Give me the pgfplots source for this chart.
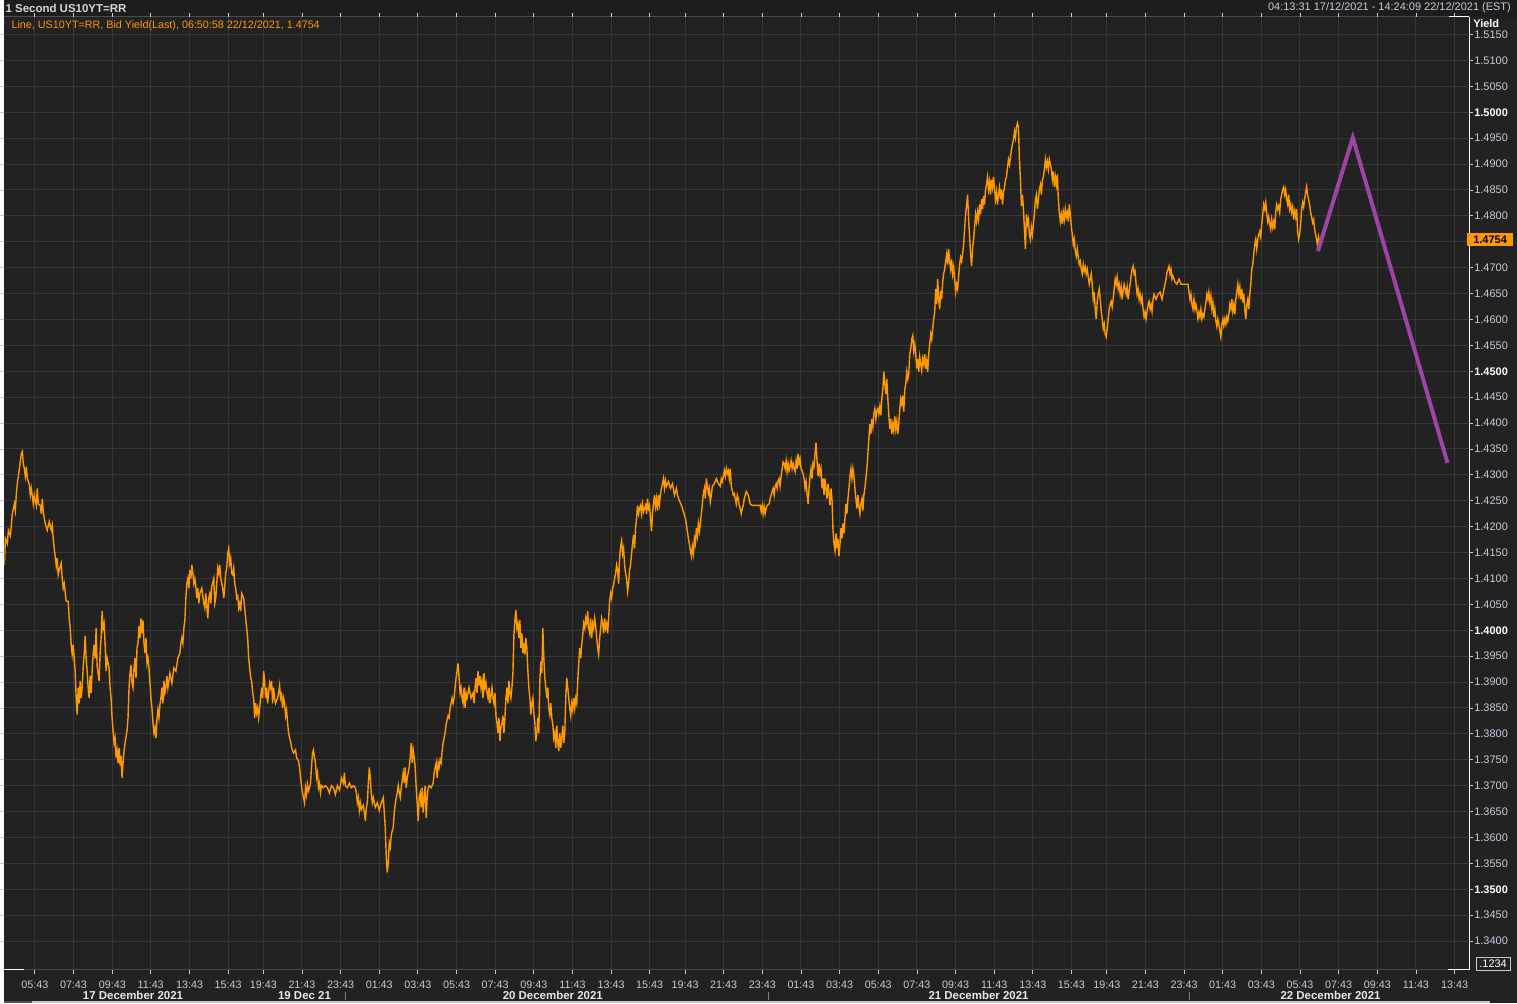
\documentclass[border=0pt]{standalone}
\usepackage{pgfplots}
\pgfplotsset{compat=1.18}
\usepackage{fontspec}
\setmainfont{Liberation Sans}
\definecolor{bg}{RGB}{34,34,34}
\definecolor{titlebg}{RGB}{29,29,29}
\definecolor{gridc}{RGB}{55,55,55}
\definecolor{tickc}{RGB}{196,204,218}
\definecolor{ser}{RGB}{255,153,0}
\definecolor{purp}{RGB}{158,68,165}
\definecolor{titlec}{RGB}{214,214,214}
\definecolor{dayc}{RGB}{228,232,238}
\definecolor{scrollc}{RGB}{196,196,196}
\definecolor{scrolld}{RGB}{80,80,80}
\begin{document}
\begin{tikzpicture}[x=1pt,y=1pt]
\fill[bg] (0,0) rectangle (1517,1006);
\fill[titlebg] (0,989.3) rectangle (1517,1006);
\draw[gray!60!black,line width=1pt] (0,989.3) -- (1449,989.3);
\fill[scrolld] (0,0) rectangle (28,2.4);
\fill[scrollc] (28,0) rectangle (1490,2.4);
\begin{axis}[
  at={(0pt,33.5pt)}, anchor=south west,
  scale only axis, width=1469pt, height=955.8pt,
  xmin=0, xmax=1469, ymin=1.33447, ymax=1.518465,
  axis line style={draw=none},
  grid=major,
  major grid style={draw=gridc,line width=1pt},
  tick align=outside,
  major tick length=4pt,
  tick style={draw=tickc,line width=0.8pt},
  yticklabel pos=right,
  ytick={1.340,1.345,1.350,1.355,1.360,1.365,1.370,1.375,1.380,1.385,1.390,1.395,1.400,1.405,1.410,1.415,1.420,1.425,1.430,1.435,1.440,1.445,1.450,1.455,1.460,1.465,1.470,1.475,1.480,1.485,1.490,1.495,1.500,1.505,1.510,1.515},
  yticklabels={1.3400,1.3450,\textbf{\color{white}1.3500},1.3550,1.3600,1.3650,1.3700,1.3750,1.3800,1.3850,1.3900,1.3950,\textbf{\color{white}1.4000},1.4050,1.4100,1.4150,1.4200,1.4250,1.4300,1.4350,1.4400,1.4450,\textbf{\color{white}1.4500},1.4550,1.4600,1.4650,1.4700,{},1.4800,1.4850,1.4900,1.4950,\textbf{\color{white}1.5000},1.5050,1.5100,1.5150},
  yticklabel style={anchor=west,inner sep=0pt,xshift=1pt,text=tickc,font=\fontsize{11}{12}\selectfont},
  xtick={30.5,69.3,108.3,146.7,185.7,224.3,259.7,298.45,337.2,375.95,414.7,453.45,492.2,530.95,569.7,608.45,647.2,682.65,721.4,760.15,798.9,837.65,876.4,915.15,953.9,992.65,1031.4,1070.15,1105.6,1144.35,1183.1,1221.85,1260.6,1299.35,1338.1,1376.85,1415.6,1454.35},
  xticklabels={05:43,07:43,09:43,11:43,13:43,15:43,19:43,21:43,23:43,01:43,03:43,05:43,07:43,09:43,11:43,13:43,15:43,19:43,21:43,23:43,01:43,03:43,05:43,07:43,09:43,11:43,13:43,15:43,19:43,21:43,23:43,01:43,03:43,05:43,07:43,09:43,11:43,13:43},
  xticklabel style={anchor=north,inner sep=0pt,yshift=-7.3pt,text=tickc,font=\fontsize{10.8}{12}\selectfont},
  clip=true,
]
\addplot[ser,line width=1.4pt,mark=none] coordinates {
(0,1.4126)(1,1.4177)(3,1.4167)(4,1.4193)(6,1.4182)(8,1.4225)(10,1.4244)(11,1.4231)(12,1.4264)(13,1.4283)(14,1.4297)(15,1.4312)(16,1.4327)(17,1.4341)(18,1.4345)(19,1.4321)(20,1.4312)(21,1.4297)(22,1.4316)(23,1.4293)(25,1.4281)(26,1.4261)(27,1.4274)(29,1.4244)(30,1.4261)(31,1.4250)(32,1.4241)(33,1.4274)(34,1.4244)(36,1.4241)(37,1.4225)(38,1.4254)(39,1.4229)(40,1.4216)(41,1.4206)(43,1.4193)(45,1.4210)(47,1.4193)(48,1.4203)(49,1.4177)(50,1.4158)(51,1.4143)(52,1.4124)(53,1.4139)(54,1.4107)(55,1.4116)(57,1.4129)(58,1.4100)(59,1.4081)(60,1.4090)(62,1.4056)(64,1.4056)(65,1.4023)(66,1.4004)(67,1.3972)(68,1.3953)(69,1.3972)(70,1.3946)(71,1.3921)(72,1.3869)(73,1.3837)(74,1.3889)(75,1.3859)(76,1.3902)(77,1.3869)(78,1.3889)(79,1.3927)(80,1.3953)(81,1.3989)(82,1.3946)(83,1.3921)(84,1.3889)(85,1.3869)(86,1.3912)(87,1.3879)(88,1.3921)(89,1.3953)(90,1.3972)(91,1.3946)(92,1.4004)(93,1.3931)(95,1.3902)(96,1.3956)(97,1.3985)(98,1.4037)(99,1.4004)(100,1.4013)(101,1.3975)(102,1.3921)(103,1.3946)(105,1.3927)(106,1.3889)(107,1.3869)(108,1.3831)(109,1.3806)(110,1.3782)(111,1.3792)(112,1.3754)(113,1.3769)(114,1.3744)(115,1.3773)(116,1.3739)(117,1.3758)(118,1.3715)(119,1.3744)(120,1.3767)(121,1.3782)(123,1.3806)(124,1.3831)(125,1.3889)(126,1.3917)(127,1.3933)(128,1.3898)(129,1.3889)(130,1.3927)(131,1.3946)(132,1.3908)(133,1.3966)(134,1.3975)(135,1.4008)(136,1.3985)(137,1.4023)(138,1.3994)(139,1.4019)(140,1.3975)(141,1.3956)(142,1.3985)(143,1.3936)(144,1.3946)(145,1.3927)(146,1.3898)(147,1.3869)(148,1.3850)(149,1.3821)(150,1.3802)(151,1.3812)(152,1.3792)(153,1.3827)(154,1.3846)(155,1.3831)(156,1.3856)(157,1.3869)(158,1.3889)(159,1.3859)(160,1.3902)(161,1.3879)(162,1.3889)(163,1.3912)(164,1.3889)(166,1.3917)(168,1.3898)(170,1.3927)(172,1.3921)(174,1.3946)(176,1.3956)(177,1.3975)(178,1.3985)(179,1.3975)(180,1.4004)(181,1.4019)(182,1.4062)(183,1.4090)(184,1.4100)(185,1.4081)(186,1.4116)(187,1.4100)(188,1.4126)(189,1.4110)(190,1.4090)(191,1.4100)(192,1.4085)(193,1.4062)(194,1.4081)(195,1.4052)(196,1.4071)(198,1.4081)(200,1.4052)(201,1.4043)(202,1.4071)(204,1.4023)(205,1.4062)(206,1.4071)(207,1.4052)(208,1.4085)(210,1.4100)(211,1.4052)(212,1.4062)(213,1.4090)(214,1.4120)(215,1.4110)(216,1.4126)(217,1.4100)(218,1.4090)(219,1.4081)(220,1.4062)(221,1.4085)(222,1.4110)(223,1.4120)(224,1.4148)(225,1.4158)(226,1.4129)(227,1.4139)(228,1.4110)(229,1.4107)(230,1.4120)(231,1.4090)(232,1.4081)(233,1.4062)(234,1.4066)(235,1.4043)(236,1.4052)(237,1.4037)(238,1.4071)(240,1.4062)(241,1.4043)(242,1.4023)(243,1.4004)(244,1.3985)(245,1.3946)(246,1.3927)(247,1.3908)(248,1.3902)(249,1.3879)(250,1.3869)(251,1.3831)(252,1.3859)(253,1.3840)(254,1.3850)(255,1.3831)(256,1.3850)(257,1.3869)(258,1.3889)(259,1.3869)(260,1.3921)(261,1.3902)(262,1.3869)(263,1.3889)(264,1.3859)(265,1.3879)(266,1.3898)(267,1.3889)(268,1.3902)(269,1.3859)(270,1.3889)(271,1.3869)(272,1.3859)(274,1.3869)(275,1.3879)(276,1.3893)(277,1.3869)(278,1.3876)(279,1.3850)(280,1.3869)(281,1.3859)(282,1.3835)(283,1.3846)(284,1.3821)(285,1.3802)(286,1.3792)(287,1.3786)(288,1.3773)(290,1.3763)(292,1.3769)(293,1.3754)(295,1.3748)(296,1.3735)(297,1.3715)(298,1.3700)(299,1.3686)(300,1.3677)(301,1.3667)(302,1.3696)(303,1.3683)(304,1.3702)(305,1.3690)(306,1.3696)(307,1.3705)(308,1.3735)(309,1.3763)(310,1.3769)(311,1.3754)(312,1.3744)(313,1.3715)(314,1.3725)(315,1.3696)(316,1.3705)(317,1.3686)(318,1.3700)(320,1.3696)(322,1.3700)(324,1.3696)(326,1.3686)(328,1.3700)(330,1.3696)(332,1.3683)(334,1.3700)(336,1.3692)(337,1.3700)(338,1.3715)(340,1.3705)(341,1.3725)(342,1.3700)(344,1.3696)(346,1.3705)(348,1.3696)(350,1.3700)(352,1.3696)(353,1.3686)(354,1.3667)(355,1.3677)(356,1.3652)(357,1.3667)(358,1.3654)(360,1.3662)(361,1.3648)(362,1.3632)(363,1.3658)(364,1.3667)(365,1.3705)(366,1.3735)(367,1.3715)(368,1.3683)(369,1.3667)(370,1.3677)(372,1.3658)(374,1.3667)(376,1.3652)(378,1.3667)(380,1.3677)(381,1.3648)(382,1.3619)(383,1.3561)(384,1.3532)(385,1.3551)(386,1.3590)(387,1.3581)(388,1.3604)(389,1.3613)(390,1.3619)(391,1.3648)(392,1.3664)(393,1.3677)(394,1.3686)(395,1.3700)(396,1.3686)(397,1.3677)(398,1.3696)(400,1.3725)(401,1.3705)(402,1.3735)(403,1.3696)(404,1.3715)(405,1.3725)(406,1.3735)(407,1.3754)(408,1.3782)(409,1.3744)(410,1.3769)(411,1.3754)(412,1.3735)(413,1.3696)(414,1.3667)(415,1.3632)(416,1.3677)(417,1.3686)(418,1.3658)(419,1.3696)(420,1.3648)(421,1.3677)(422,1.3700)(423,1.3638)(424,1.3677)(425,1.3696)(426,1.3700)(428,1.3696)(430,1.3705)(431,1.3725)(432,1.3735)(433,1.3744)(434,1.3715)(435,1.3744)(436,1.3735)(437,1.3750)(438,1.3744)(439,1.3767)(440,1.3782)(441,1.3792)(442,1.3802)(443,1.3818)(444,1.3827)(445,1.3835)(446,1.3831)(447,1.3850)(448,1.3859)(449,1.3869)(450,1.3859)(451,1.3869)(452,1.3889)(453,1.3908)(454,1.3921)(455,1.3936)(456,1.3908)(457,1.3879)(458,1.3889)(459,1.3869)(460,1.3859)(461,1.3889)(462,1.3850)(463,1.3879)(464,1.3869)(466,1.3889)(468,1.3869)(470,1.3879)(471,1.3859)(472,1.3889)(473,1.3908)(474,1.3879)(475,1.3921)(476,1.3893)(477,1.3912)(478,1.3889)(479,1.3902)(480,1.3869)(481,1.3917)(482,1.3889)(483,1.3898)(484,1.3879)(485,1.3869)(486,1.3889)(487,1.3859)(488,1.3874)(489,1.3889)(490,1.3869)(491,1.3859)(492,1.3879)(493,1.3835)(494,1.3821)(495,1.3802)(496,1.3831)(497,1.3786)(498,1.3812)(499,1.3821)(500,1.3835)(501,1.3802)(502,1.3831)(503,1.3869)(504,1.3889)(505,1.3859)(506,1.3902)(507,1.3879)(508,1.3869)(509,1.3889)(510,1.3917)(511,1.3991)(512,1.4019)(513,1.4039)(514,1.4004)(515,1.4013)(516,1.3985)(517,1.4019)(518,1.3966)(519,1.3994)(520,1.3956)(521,1.3975)(522,1.3953)(523,1.3985)(524,1.3966)(525,1.3921)(526,1.3889)(527,1.3869)(528,1.3837)(529,1.3859)(530,1.3869)(531,1.3840)(532,1.3821)(533,1.3786)(534,1.3802)(535,1.3831)(536,1.3802)(537,1.3902)(538,1.3940)(539,1.3917)(540,1.4004)(541,1.3946)(542,1.3908)(543,1.3889)(544,1.3869)(545,1.3889)(546,1.3850)(547,1.3837)(548,1.3859)(549,1.3831)(550,1.3818)(551,1.3792)(552,1.3802)(553,1.3773)(554,1.3816)(555,1.3782)(556,1.3767)(557,1.3802)(558,1.3773)(559,1.3792)(560,1.3816)(561,1.3782)(562,1.3802)(563,1.3869)(564,1.3908)(565,1.3889)(566,1.3869)(567,1.3850)(568,1.3835)(569,1.3859)(570,1.3846)(571,1.3869)(572,1.3850)(573,1.3869)(574,1.3859)(575,1.3902)(576,1.3936)(577,1.3966)(578,1.3946)(579,1.3972)(580,1.3991)(581,1.4013)(582,1.4004)(583,1.4023)(584,1.4013)(585,1.4037)(586,1.4004)(587,1.3994)(588,1.4023)(589,1.3985)(590,1.4013)(591,1.4004)(592,1.4023)(593,1.4008)(594,1.3985)(595,1.3966)(596,1.3953)(597,1.3985)(598,1.4004)(599,1.4023)(600,1.4013)(601,1.3994)(602,1.4023)(603,1.4004)(604,1.4013)(605,1.3994)(606,1.4023)(607,1.4056)(608,1.4071)(609,1.4062)(610,1.4081)(611,1.4087)(612,1.4100)(613,1.4110)(614,1.4126)(615,1.4116)(616,1.4090)(617,1.4139)(618,1.4162)(619,1.4173)(620,1.4148)(621,1.4158)(622,1.4126)(623,1.4110)(624,1.4100)(625,1.4075)(626,1.4090)(627,1.4116)(628,1.4126)(629,1.4148)(630,1.4167)(631,1.4184)(632,1.4158)(633,1.4197)(634,1.4216)(635,1.4241)(636,1.4225)(637,1.4235)(638,1.4241)(639,1.4225)(640,1.4244)(641,1.4229)(642,1.4235)(643,1.4241)(644,1.4225)(645,1.4254)(646,1.4235)(647,1.4241)(648,1.4216)(649,1.4191)(650,1.4225)(651,1.4244)(652,1.4261)(653,1.4239)(654,1.4254)(655,1.4231)(656,1.4261)(657,1.4244)(658,1.4264)(659,1.4274)(660,1.4283)(661,1.4293)(662,1.4274)(663,1.4289)(664,1.4278)(666,1.4287)(668,1.4274)(670,1.4283)(672,1.4261)(674,1.4274)(675,1.4261)(677,1.4250)(679,1.4241)(681,1.4229)(683,1.4216)(684,1.4203)(685,1.4191)(686,1.4177)(687,1.4167)(688,1.4154)(689,1.4143)(690,1.4162)(691,1.4148)(692,1.4177)(693,1.4167)(694,1.4197)(695,1.4182)(696,1.4206)(697,1.4191)(698,1.4206)(699,1.4225)(700,1.4244)(701,1.4264)(702,1.4274)(703,1.4254)(704,1.4293)(705,1.4278)(706,1.4264)(707,1.4274)(708,1.4248)(709,1.4261)(710,1.4278)(712,1.4283)(714,1.4293)(716,1.4283)(718,1.4278)(719,1.4293)(720,1.4287)(721,1.4297)(722,1.4308)(723,1.4297)(724,1.4312)(725,1.4302)(726,1.4308)(727,1.4293)(728,1.4312)(729,1.4278)(730,1.4270)(731,1.4261)(732,1.4264)(733,1.4254)(734,1.4244)(735,1.4261)(736,1.4254)(737,1.4241)(738,1.4235)(739,1.4225)(740,1.4235)(741,1.4241)(742,1.4254)(743,1.4261)(744,1.4268)(746,1.4261)(748,1.4244)(750,1.4241)(754,1.4241)(758,1.4241)(759,1.4229)(760,1.4241)(761,1.4225)(762,1.4239)(763,1.4225)(764,1.4235)(765,1.4241)(767,1.4244)(768,1.4254)(769,1.4261)(770,1.4268)(771,1.4274)(772,1.4261)(773,1.4278)(774,1.4283)(775,1.4274)(776,1.4289)(777,1.4293)(778,1.4278)(779,1.4297)(780,1.4312)(781,1.4325)(782,1.4322)(783,1.4312)(784,1.4327)(785,1.4306)(786,1.4322)(787,1.4308)(788,1.4316)(789,1.4327)(790,1.4312)(791,1.4322)(792,1.4312)(793,1.4306)(794,1.4327)(795,1.4312)(796,1.4341)(797,1.4322)(798,1.4331)(799,1.4312)(800,1.4308)(801,1.4302)(802,1.4293)(803,1.4274)(804,1.4287)(805,1.4264)(806,1.4244)(807,1.4274)(808,1.4297)(809,1.4312)(810,1.4293)(811,1.4322)(812,1.4316)(813,1.4341)(814,1.4362)(815,1.4327)(816,1.4297)(817,1.4322)(818,1.4302)(819,1.4312)(820,1.4274)(821,1.4293)(822,1.4261)(823,1.4293)(824,1.4274)(825,1.4254)(826,1.4283)(827,1.4264)(828,1.4241)(829,1.4274)(830,1.4254)(831,1.4193)(832,1.4167)(833,1.4154)(834,1.4187)(835,1.4158)(836,1.4177)(837,1.4143)(838,1.4167)(839,1.4197)(840,1.4177)(841,1.4206)(842,1.4187)(843,1.4216)(844,1.4244)(845,1.4225)(846,1.4254)(847,1.4274)(848,1.4297)(849,1.4312)(850,1.4293)(851,1.4312)(852,1.4297)(853,1.4274)(854,1.4254)(855,1.4235)(856,1.4261)(857,1.4239)(858,1.4225)(859,1.4244)(860,1.4254)(861,1.4231)(862,1.4261)(863,1.4274)(864,1.4293)(865,1.4312)(866,1.4341)(867,1.4370)(868,1.4398)(869,1.4379)(870,1.4408)(871,1.4393)(872,1.4418)(873,1.4428)(874,1.4408)(875,1.4424)(876,1.4428)(877,1.4418)(878,1.4432)(879,1.4415)(880,1.4447)(881,1.4466)(882,1.4499)(883,1.4475)(884,1.4456)(885,1.4485)(886,1.4447)(887,1.4415)(888,1.4389)(889,1.4408)(890,1.4379)(891,1.4398)(892,1.4385)(893,1.4413)(894,1.4389)(895,1.4404)(896,1.4379)(897,1.4398)(898,1.4428)(899,1.4447)(900,1.4437)(901,1.4453)(902,1.4422)(903,1.4466)(904,1.4475)(905,1.4499)(906,1.4485)(907,1.4495)(908,1.4533)(909,1.4543)(910,1.4562)(911,1.4569)(912,1.4539)(913,1.4552)(914,1.4533)(915,1.4505)(916,1.4524)(917,1.4499)(918,1.4528)(919,1.4514)(920,1.4501)(921,1.4524)(922,1.4514)(923,1.4533)(924,1.4505)(925,1.4520)(926,1.4499)(927,1.4533)(928,1.4552)(929,1.4572)(930,1.4562)(931,1.4582)(932,1.4601)(933,1.4614)(934,1.4659)(935,1.4629)(936,1.4678)(937,1.4639)(938,1.4620)(939,1.4655)(940,1.4639)(941,1.4672)(942,1.4688)(943,1.4697)(944,1.4712)(945,1.4726)(946,1.4706)(947,1.4736)(948,1.4712)(949,1.4697)(950,1.4716)(951,1.4688)(952,1.4701)(953,1.4678)(954,1.4653)(955,1.4668)(956,1.4659)(957,1.4682)(958,1.4706)(959,1.4720)(960,1.4712)(961,1.4726)(962,1.4745)(963,1.4774)(964,1.4803)(965,1.4822)(966,1.4841)(967,1.4793)(968,1.4761)(969,1.4726)(970,1.4703)(971,1.4736)(972,1.4755)(973,1.4778)(974,1.4803)(975,1.4789)(976,1.4807)(977,1.4793)(978,1.4822)(979,1.4803)(980,1.4832)(981,1.4813)(982,1.4838)(983,1.4822)(984,1.4851)(985,1.4860)(986,1.4875)(987,1.4851)(988,1.4866)(989,1.4841)(990,1.4870)(991,1.4855)(992,1.4875)(993,1.4851)(994,1.4832)(995,1.4847)(996,1.4822)(997,1.4841)(998,1.4855)(999,1.4832)(1000,1.4851)(1001,1.4822)(1002,1.4845)(1003,1.4855)(1004,1.4870)(1005,1.4875)(1006,1.4894)(1007,1.4909)(1008,1.4899)(1009,1.4913)(1010,1.4928)(1011,1.4938)(1012,1.4947)(1013,1.4963)(1014,1.4951)(1015,1.4971)(1016,1.4979)(1017,1.4971)(1018,1.4909)(1019,1.4870)(1020,1.4819)(1021,1.4841)(1022,1.4813)(1023,1.4774)(1024,1.4736)(1025,1.4803)(1026,1.4784)(1027,1.4793)(1028,1.4764)(1029,1.4755)(1030,1.4778)(1031,1.4764)(1032,1.4784)(1033,1.4803)(1034,1.4832)(1035,1.4841)(1036,1.4813)(1037,1.4832)(1038,1.4851)(1039,1.4860)(1040,1.4841)(1041,1.4870)(1042,1.4875)(1043,1.4890)(1044,1.4909)(1045,1.4894)(1046,1.4905)(1047,1.4890)(1048,1.4909)(1049,1.4899)(1050,1.4890)(1051,1.4870)(1052,1.4886)(1053,1.4856)(1054,1.4875)(1055,1.4860)(1056,1.4880)(1057,1.4832)(1058,1.4807)(1059,1.4789)(1060,1.4803)(1061,1.4784)(1062,1.4807)(1063,1.4793)(1064,1.4813)(1065,1.4798)(1066,1.4807)(1067,1.4789)(1068,1.4822)(1069,1.4803)(1070,1.4780)(1071,1.4764)(1072,1.4745)(1073,1.4755)(1074,1.4732)(1075,1.4722)(1076,1.4736)(1077,1.4720)(1078,1.4706)(1079,1.4712)(1080,1.4697)(1081,1.4688)(1082,1.4706)(1083,1.4693)(1084,1.4701)(1085,1.4688)(1086,1.4697)(1087,1.4682)(1088,1.4668)(1089,1.4678)(1090,1.4688)(1091,1.4668)(1092,1.4639)(1093,1.4653)(1094,1.4620)(1095,1.4601)(1096,1.4635)(1097,1.4649)(1098,1.4659)(1099,1.4639)(1100,1.4616)(1101,1.4601)(1102,1.4582)(1103,1.4591)(1104,1.4572)(1105,1.4566)(1106,1.4582)(1107,1.4601)(1108,1.4620)(1109,1.4629)(1110,1.4635)(1111,1.4624)(1112,1.4639)(1113,1.4659)(1114,1.4678)(1115,1.4668)(1116,1.4682)(1117,1.4659)(1118,1.4668)(1119,1.4649)(1120,1.4663)(1121,1.4639)(1122,1.4655)(1123,1.4668)(1124,1.4659)(1125,1.4649)(1126,1.4663)(1127,1.4639)(1128,1.4655)(1129,1.4668)(1130,1.4684)(1131,1.4697)(1132,1.4703)(1133,1.4688)(1134,1.4693)(1135,1.4668)(1136,1.4649)(1137,1.4659)(1138,1.4639)(1139,1.4649)(1140,1.4633)(1141,1.4643)(1142,1.4620)(1143,1.4605)(1144,1.4614)(1145,1.4601)(1146,1.4616)(1147,1.4629)(1148,1.4635)(1149,1.4620)(1150,1.4629)(1151,1.4616)(1152,1.4639)(1153,1.4649)(1155,1.4639)(1157,1.4649)(1159,1.4653)(1161,1.4639)(1162,1.4649)(1163,1.4659)(1164,1.4668)(1165,1.4678)(1166,1.4691)(1167,1.4697)(1168,1.4703)(1169,1.4688)(1170,1.4697)(1171,1.4678)(1172,1.4684)(1174,1.4672)(1176,1.4668)(1178,1.4678)(1180,1.4668)(1187,1.4668)(1188,1.4653)(1189,1.4639)(1190,1.4649)(1191,1.4629)(1192,1.4620)(1193,1.4639)(1194,1.4620)(1195,1.4629)(1196,1.4616)(1197,1.4601)(1198,1.4614)(1199,1.4605)(1200,1.4620)(1201,1.4601)(1202,1.4610)(1203,1.4605)(1204,1.4620)(1205,1.4633)(1206,1.4649)(1207,1.4639)(1208,1.4653)(1209,1.4633)(1210,1.4646)(1211,1.4620)(1212,1.4633)(1213,1.4605)(1214,1.4620)(1215,1.4597)(1216,1.4586)(1217,1.4601)(1218,1.4591)(1219,1.4578)(1220,1.4566)(1221,1.4591)(1222,1.4601)(1223,1.4588)(1224,1.4601)(1225,1.4591)(1226,1.4605)(1227,1.4597)(1228,1.4610)(1229,1.4629)(1230,1.4620)(1231,1.4639)(1232,1.4616)(1233,1.4629)(1234,1.4610)(1235,1.4639)(1236,1.4653)(1237,1.4668)(1238,1.4649)(1239,1.4663)(1240,1.4639)(1241,1.4659)(1242,1.4633)(1243,1.4649)(1244,1.4620)(1245,1.4601)(1246,1.4629)(1247,1.4639)(1248,1.4620)(1249,1.4649)(1250,1.4668)(1251,1.4697)(1252,1.4706)(1253,1.4726)(1254,1.4745)(1255,1.4755)(1256,1.4736)(1257,1.4755)(1258,1.4764)(1259,1.4770)(1260,1.4759)(1261,1.4784)(1262,1.4803)(1263,1.4822)(1264,1.4813)(1265,1.4826)(1266,1.4803)(1267,1.4789)(1268,1.4799)(1269,1.4784)(1270,1.4774)(1271,1.4793)(1272,1.4778)(1273,1.4789)(1274,1.4774)(1275,1.4807)(1276,1.4822)(1277,1.4813)(1278,1.4819)(1279,1.4807)(1280,1.4832)(1281,1.4841)(1282,1.4851)(1283,1.4856)(1284,1.4841)(1285,1.4851)(1286,1.4832)(1287,1.4822)(1288,1.4841)(1289,1.4813)(1290,1.4822)(1291,1.4807)(1292,1.4817)(1293,1.4793)(1294,1.4809)(1295,1.4798)(1296,1.4813)(1297,1.4770)(1298,1.4755)(1299,1.4764)(1300,1.4784)(1301,1.4813)(1302,1.4826)(1303,1.4817)(1304,1.4832)(1305,1.4845)(1306,1.4856)(1307,1.4841)(1308,1.4832)(1309,1.4822)(1310,1.4807)(1311,1.4798)(1312,1.4787)(1313,1.4793)(1314,1.4774)(1315,1.4764)(1316,1.4755)(1317,1.4742)(1318,1.4759)(1319,1.4749)(1320,1.4754)
};
\addplot[purp,line width=4pt,mark=none] coordinates {(1317.3,1.4732)(1352.3,1.4951)(1447.3,1.4323)};
\end{axis}
\draw[white,line width=1.2pt] (1469,33.5) -- (1469,989.3);
\draw[white,line width=1.2pt] (1449,989.3) -- (1469,989.3);
\draw[gray!55!black,line width=1pt] (0,33.5) -- (1469,33.5);
\draw[white,line width=1.2pt] (1448,33.5) -- (1469,33.5);
\draw[white,line width=1.2pt] (0,33.5) -- (20,33.5);
\node[anchor=west,inner sep=0pt,text=titlec,font=\fontsize{11.5}{13}\selectfont\bfseries] at (1,998) {1 Second US10YT=RR};
\node[anchor=east,inner sep=0pt,text=tickc,font=\fontsize{11}{12}\selectfont] at (1511,998) {04:13:31 17/12/2021 - 14:24:09 22/12/2021 (EST)};
\node[anchor=west,inner sep=0pt,text=ser,font=\fontsize{10.8}{12}\selectfont] at (7,980) {Line, US10YT=RR, Bid Yield(Last), 06:50:58 22/12/2021, 1.4754};
\node[anchor=west,inner sep=0pt,text=white,font=\fontsize{11}{12}\selectfont\bfseries] at (1473,982) {Yield};
\fill[ser] (1467,759) rectangle (1513,772);
\node[inner sep=0pt,text=black,font=\fontsize{11}{12}\selectfont\bfseries] at (1490,765.5) {1.4754};
\draw[tickc,line width=0.8pt,fill=bg] (1476,33) rectangle (1510,46);
\node[inner sep=0pt,text=white,font=\fontsize{11}{12}\selectfont] at (1493,39.5) {.1234};
\foreach \xx/\tt in {129/17 December 2021,301/19 Dec 21,550/20 December 2021,977/21 December 2021,1330/22 December 2021}
  \node[anchor=base,inner sep=0pt,text=dayc,font=\fontsize{11.5}{13}\selectfont\bfseries] at (\xx,3.6) {\tt};
\foreach \xx in {342.5,766,1189}
  \draw[gray,line width=1pt] (\xx,3) -- (\xx,11);
\end{tikzpicture}
\end{document}
